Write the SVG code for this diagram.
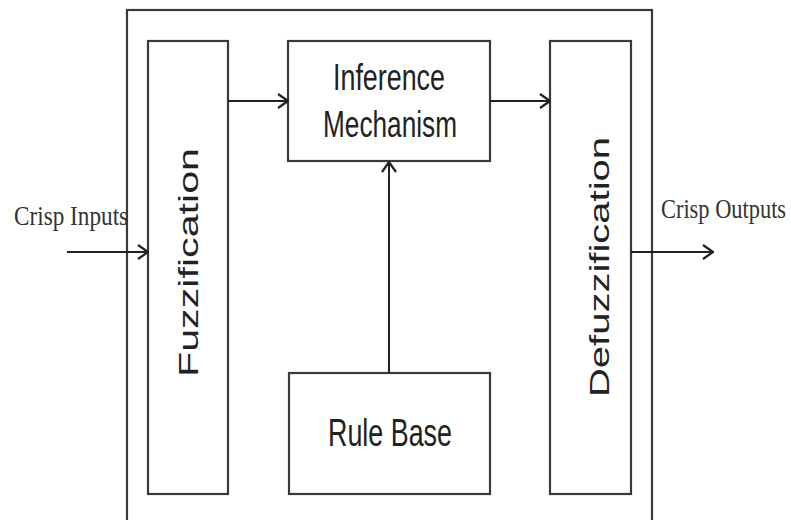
<svg xmlns="http://www.w3.org/2000/svg" width="791" height="520" viewBox="0 0 791 520">
<style>
.box{fill:#fff;stroke:#3a3a3a;stroke-width:2.2}
.lbl{font-family:"Liberation Sans",Arial,sans-serif;fill:#222}
.ser{font-family:"Liberation Serif","Times New Roman",serif;fill:#333}
.con{fill:none;stroke:#222;stroke-width:2}
</style>
<defs>
<marker id="ah" viewBox="0 0 12 16" refX="11" refY="8" markerWidth="12" markerHeight="16" markerUnits="userSpaceOnUse" orient="auto">
<path d="M1,1 L11,8 L1,15" fill="none" stroke="#222" stroke-width="2.2"/>
</marker>
</defs>
<rect width="791" height="520" fill="#fff"/>
<g id="outer"><rect class="box" x="127" y="10" width="525" height="530"/></g>
<g id="fuzzification">
<rect class="box" x="148" y="41" width="80" height="453"/>
<text class="lbl" font-size="28" transform="translate(198,377) rotate(-90)" textLength="229" lengthAdjust="spacingAndGlyphs">Fuzzification</text>
</g>
<g id="inference">
<rect class="box" x="288" y="41" width="202" height="120"/>
<text class="lbl" font-size="36" x="389" y="90" text-anchor="middle" textLength="112" lengthAdjust="spacingAndGlyphs">Inference</text>
<text class="lbl" font-size="36" x="390" y="137" text-anchor="middle" textLength="134" lengthAdjust="spacingAndGlyphs">Mechanism</text>
</g>
<g id="defuzzification">
<rect class="box" x="550" y="41" width="81" height="453"/>
<text class="lbl" font-size="28" transform="translate(609,397) rotate(-90)" textLength="260" lengthAdjust="spacingAndGlyphs">Defuzzification</text>
</g>
<g id="rulebase">
<rect class="box" x="289" y="373" width="201" height="121"/>
<text class="lbl" font-size="38" x="390" y="446" text-anchor="middle" textLength="124" lengthAdjust="spacingAndGlyphs">Rule Base</text>
</g>
<g id="input-label"><text class="ser" font-size="27" transform="translate(14,225) scale(0.86,1)">Crisp Inputs</text></g>
<g id="output-label"><text class="ser" font-size="27" transform="translate(661,218) scale(0.83,1)">Crisp Outputs</text></g>
<g id="connectors">
<line class="con" x1="228" y1="101" x2="288" y2="101" marker-end="url(#ah)"/>
<line class="con" x1="490" y1="101" x2="550" y2="101" marker-end="url(#ah)"/>
<line class="con" x1="389" y1="373" x2="389" y2="162" marker-end="url(#ah)"/>
<line class="con" x1="67" y1="252" x2="148" y2="252" stroke-width="3" marker-end="url(#ah)"/>
<line class="con" x1="631" y1="252" x2="713" y2="252" stroke-width="3" marker-end="url(#ah)"/>
</g>
</svg>
